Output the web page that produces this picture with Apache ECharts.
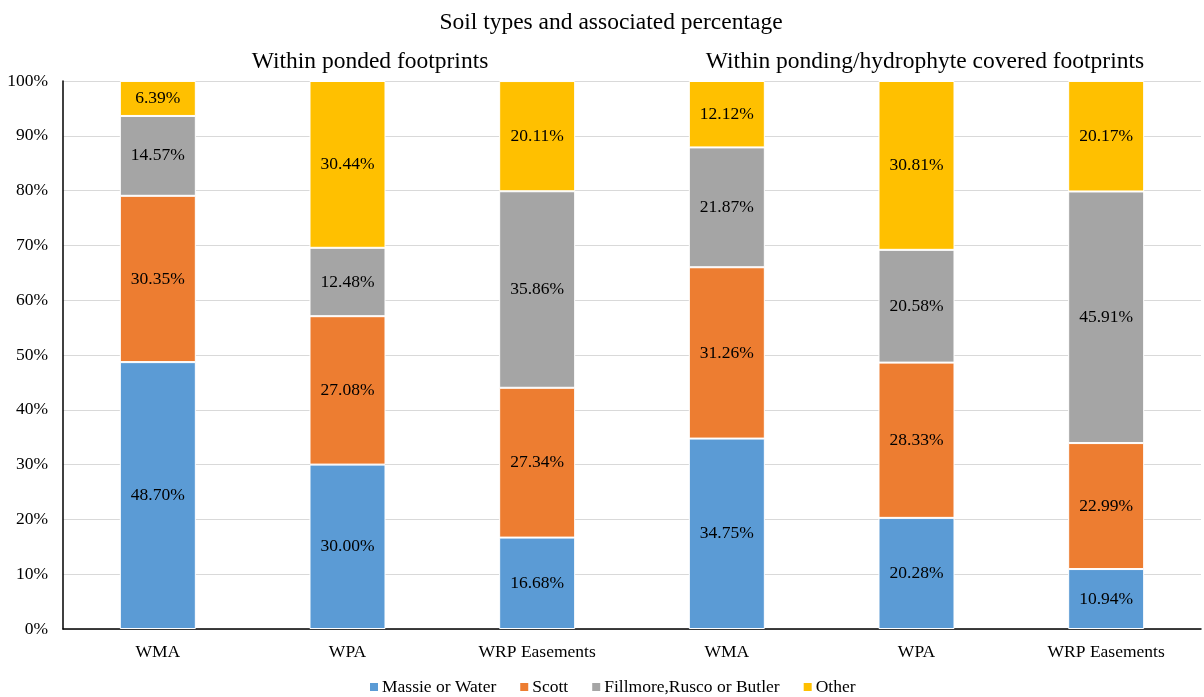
<!DOCTYPE html>
<html>
<head>
<meta charset="utf-8">
<script src="https://cdn.jsdelivr.net/npm/echarts@6/dist/echarts.min.js"></script>
<style>
html,body{margin:0;padding:0;background:#fff;}
#chart{width:1204px;height:697px;}
</style>
</head>
<body>
<div id="chart"></div>
<script>
// Soil composition per site type, two footprint groups side by side
const categories = ['WMA', 'WPA', 'WRP Easements', 'WMA ', 'WPA ', 'WRP Easements '];
const massieOrWater = [48.70, 30.00, 16.68, 34.75, 20.28, 10.94];
const scott = [30.35, 27.08, 27.34, 31.26, 28.33, 22.99];
const fillmoreRuscoButler = [14.57, 12.48, 35.86, 21.87, 20.58, 45.91];
const other = [6.39, 30.44, 20.11, 12.12, 30.81, 20.17];

const FONT = '"Liberation Serif", "Times New Roman", serif';
const FS = 17.5;

function seg(name, data, color) {
  return {
    name: name,
    type: 'bar',
    stack: 'soil',
    barWidth: 76,
    data: data,
    itemStyle: { color: color, borderColor: '#fff', borderWidth: 1 },
    label: {
      show: true,
      position: 'inside',
      formatter: p => p.value.toFixed(2) + '%',
      color: '#000',
      fontFamily: FONT,
      fontSize: FS
    },
    emphasis: { disabled: true }
  };
}

const chart = echarts.init(document.getElementById('chart'), null, { renderer: 'canvas' });
chart.setOption({
  animation: false,
  textStyle: { fontFamily: FONT },
  title: [
    { text: 'Soil types and associated percentage', left: 606, top: 6, textAlign: 'center',
      textStyle: { fontFamily: FONT, fontSize: 23.5, fontWeight: 'normal', color: '#000' } },
    { text: 'Within ponded footprints', left: 365, top: 45, textAlign: 'center',
      textStyle: { fontFamily: FONT, fontSize: 23.5, fontWeight: 'normal', color: '#000' } },
    { text: 'Within ponding/hydrophyte covered footprints', left: 920, top: 45, textAlign: 'center',
      textStyle: { fontFamily: FONT, fontSize: 23.5, fontWeight: 'normal', color: '#000' } }
  ],
  legend: {
    top: 673,
    left: 363,
    itemWidth: 10,
    itemHeight: 10,
    itemGap: 22,
    icon: 'rect',
    textStyle: { fontFamily: FONT, fontSize: FS, color: '#000', padding: [0, 0, 0, -2] },
    data: ['Massie or Water', 'Scott', 'Fillmore,Rusco or Butler', 'Other']
  },
  grid: { left: 63, right: 3, top: 81, bottom: 68 },
  xAxis: {
    type: 'category',
    data: categories,
    axisLine: { lineStyle: { color: '#000', width: 1.5 } },
    axisTick: { show: false },
    axisLabel: { fontFamily: FONT, fontSize: FS, color: '#000', margin: 14,
      formatter: v => v.trim() }
  },
  yAxis: {
    type: 'value',
    min: 0,
    max: 100,
    interval: 10,
    axisLine: { show: true, lineStyle: { color: '#000', width: 1.5 } },
    axisTick: { show: false },
    splitLine: { lineStyle: { color: '#D9D9D9', width: 1 } },
    axisLabel: { fontFamily: FONT, fontSize: FS, color: '#000', margin: 15,
      formatter: v => v + '%' }
  },
  series: [
    seg('Massie or Water', massieOrWater, '#5B9BD5'),
    seg('Scott', scott, '#ED7D31'),
    seg('Fillmore,Rusco or Butler', fillmoreRuscoButler, '#A5A5A5'),
    seg('Other', other, '#FFC000')
  ]
});
</script>
</body>
</html>
